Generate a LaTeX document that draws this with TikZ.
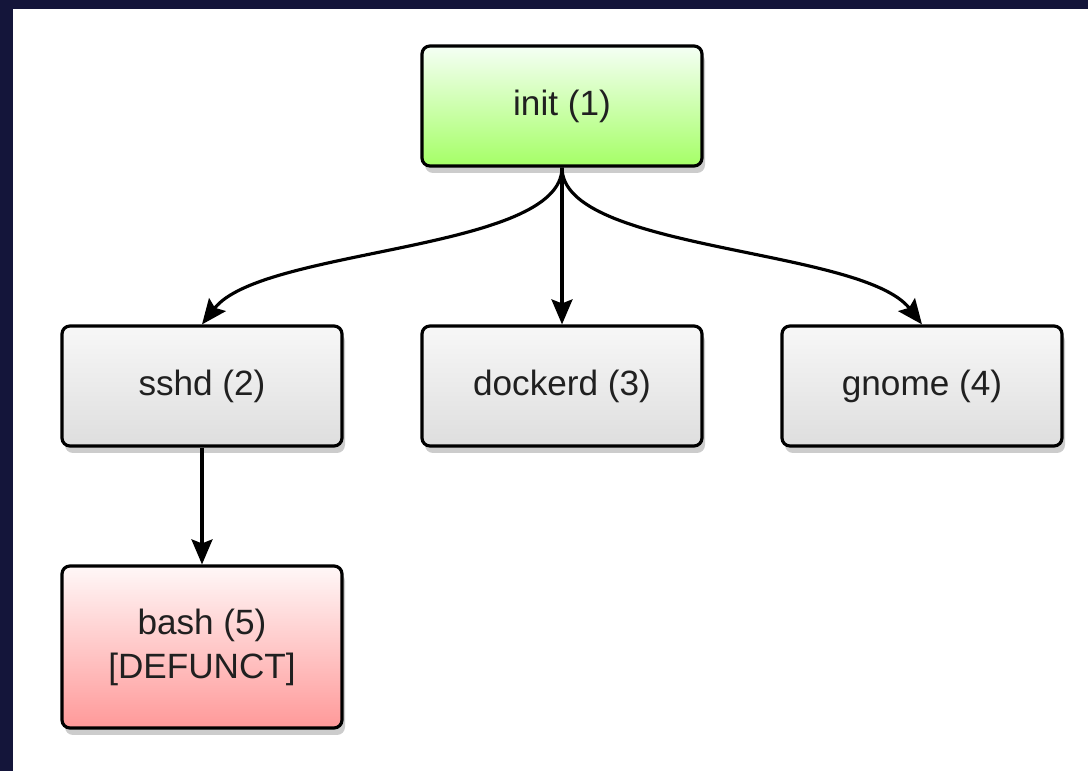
\documentclass[tikz,border=0pt]{standalone}
\usepackage{fontspec}
\setmainfont{Liberation Sans}
\usepackage{tikz}
\usetikzlibrary{shadows,arrows.meta}

\definecolor{navy}{HTML}{14153A}
\definecolor{txt}{HTML}{202020}

\tikzset{
  proc/.style={shape=rectangle, draw=black, line width=0.9pt, rounded corners=0.08cm,
    minimum width=2.8cm, minimum height=1.2cm, align=center, text=txt,
    font=\fontsize{10}{12.5}\selectfont,
    drop shadow={shadow xshift=0.03cm, shadow yshift=-0.07cm, opacity=0.4}},
  plain/.style={proc, top color=white!97!black, bottom color=white!87!black},
  alive/.style={proc, top color=green!4!white, bottom color=green!45!lime!60!white},
  dead/.style={proc, top color=red!3!white, bottom color=red!40!white},
  edge/.style={line width=0.9pt, -{Stealth[length=0.25cm, width=0.21cm, inset=0.04cm]}}
}

\begin{document}
\begin{tikzpicture}
  \useasboundingbox (0, 0) rectangle (10.88, 7.71);
  \fill[navy] (0, 0) rectangle (10.88, 7.71);
  \fill[white] (0.13, 0) rectangle (10.88, 7.62);
  \node (init) at (5.62, 6.65) [alive] {init (1)};
  \node (sshd) at (2.02, 3.85) [plain] {sshd (2)};
  \node (dockerd) at (5.62, 3.85) [plain] {dockerd (3)};
  \node (gnome) at (9.22, 3.85) [plain] {gnome (4)};
  \node (bash) at (2.02, 1.24) [dead, minimum height=1.62cm] {bash (5)\\{}[DEFUNCT]};
  \draw[edge] (init.south) .. controls +(0, -0.84) and +(0.6, 0.77) .. (sshd.north);
  \draw[edge] (init.south) -- (dockerd.north);
  \draw[edge] (init.south) .. controls +(0, -0.84) and +(-0.6, 0.77) .. (gnome.north);
  \draw[edge] (sshd.south) -- (bash.north);
\end{tikzpicture}
\end{document}
